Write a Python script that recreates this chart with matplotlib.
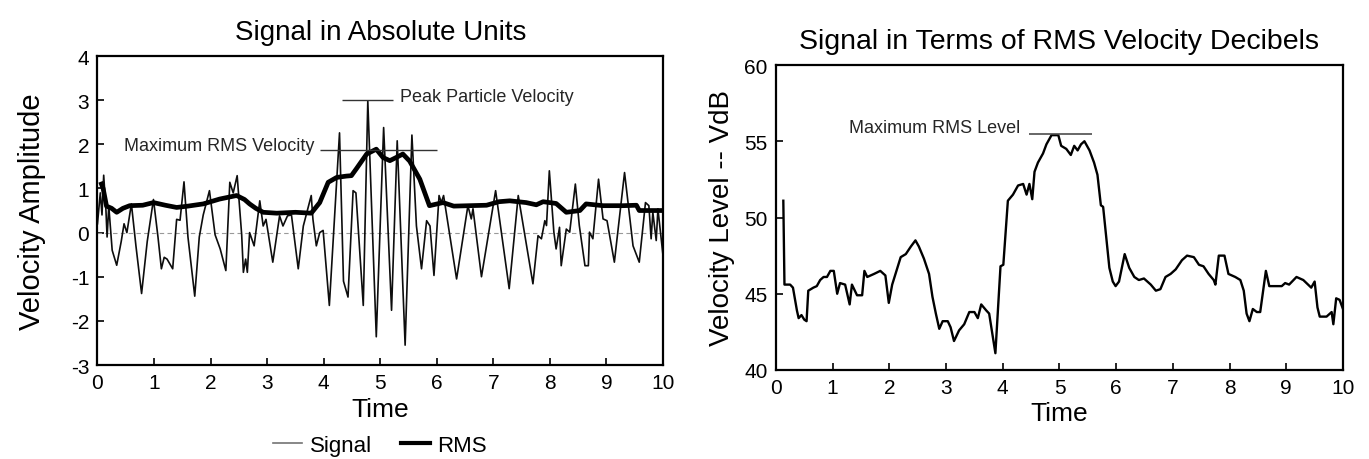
import matplotlib
matplotlib.use('Agg')
import matplotlib.pyplot as plt
from matplotlib.lines import Line2D

plt.rcParams['font.family'] = ['Liberation Sans', 'DejaVu Sans']
plt.rcParams['axes.unicode_minus'] = False

# left panel: raw signal (time, velocity amplitude)
sig_t = [0.00, 0.05, 0.08, 0.11, 0.15, 0.17, 0.20, 0.26, 0.34, 0.42, 0.47, 0.52, 0.60, 0.68,
         0.78, 0.88, 0.99, 1.07, 1.13, 1.18, 1.23, 1.33, 1.40, 1.46, 1.53, 1.60, 1.72, 1.80,
         1.87, 1.98, 2.08, 2.17, 2.27, 2.34, 2.40, 2.47, 2.55, 2.58, 2.62, 2.65, 2.69, 2.73,
         2.77, 2.87, 2.93, 2.98, 3.10, 3.22, 3.28, 3.36, 3.43, 3.55, 3.64, 3.78, 3.81, 3.87,
         3.93, 3.99, 4.10, 4.28, 4.35, 4.43, 4.52, 4.57, 4.70, 4.78, 4.93, 5.06, 5.20, 5.30,
         5.44, 5.56, 5.64, 5.73, 5.82, 5.88, 5.95, 6.04, 6.08, 6.12, 6.35, 6.55, 6.61, 6.64,
         6.79, 7.04, 7.28, 7.44, 7.70, 7.79, 7.85, 7.91, 7.94, 7.99, 8.07, 8.11, 8.17, 8.20,
         8.29, 8.35, 8.45, 8.52, 8.62, 8.68, 8.70, 8.76, 8.86, 8.94, 9.01, 9.14, 9.32, 9.47,
         9.58, 9.69, 9.75, 9.79, 9.82, 9.88, 9.91, 10.00]
sig_v = [0.20, 0.90, 0.40, 1.30, 0.50, -0.10, 0.60, -0.40, -0.74, -0.20, 0.20, 0.00, 0.65, -0.30,
         -1.38, -0.20, 0.75, -0.10, -0.82, -0.56, -0.60, -0.82, 0.30, 0.28, 1.15, -0.10, -1.44, -0.10,
         0.40, 0.95, -0.05, -0.37, -0.86, 1.14, 0.90, 1.29, -0.05, -0.90, -0.60, -0.90, 0.00, -0.15,
         -0.30, 0.72, 0.15, 0.30, -0.67, 0.38, 0.15, 0.38, 0.40, -0.82, 0.15, 0.84, 0.30, -0.30,
         0.00, 0.05, -1.65, 2.26, -1.10, -1.46, 0.95, 0.90, -1.65, 2.98, -2.36, 2.38, -1.76, 2.08,
         -2.55, 2.21, 0.15, -0.82, 0.27, 0.15, -0.97, 0.84, 0.68, 0.84, -1.05, 0.61, 0.31, 0.54,
         -1.00, 0.95, -1.27, 0.84, -1.16, -0.07, -0.14, 0.27, 0.16, 1.40, 0.01, -0.37, 0.12, -0.75,
         0.08, 0.01, 1.10, 0.16, -0.75, -0.75, 0.01, -0.14, 1.21, 0.31, 0.27, -0.67, 1.36, -0.30,
         -0.67, 0.68, 0.61, -0.14, 0.46, -0.18, 0.54, -0.52]

# left panel: running RMS
rms_t = [0.07, 0.10, 0.16, 0.25, 0.34, 0.45, 0.57, 0.80, 0.99, 1.20, 1.40, 1.60, 1.87, 2.16,
         2.46, 2.60, 2.69, 2.80, 2.93, 3.17, 3.50, 3.78, 3.93, 4.08, 4.23, 4.40, 4.49, 4.58,
         4.76, 4.93, 5.05, 5.17, 5.28, 5.40, 5.52, 5.70, 5.87, 6.11, 6.30, 6.58, 6.88, 7.10,
         7.29, 7.58, 7.76, 7.88, 8.11, 8.29, 8.53, 8.64, 8.94, 9.30, 9.53, 9.58, 10.00]
rms_v = [1.10, 1.00, 0.60, 0.55, 0.46, 0.55, 0.61, 0.62, 0.68, 0.62, 0.57, 0.60, 0.65, 0.76,
         0.84, 0.75, 0.65, 0.55, 0.46, 0.44, 0.46, 0.44, 0.68, 1.14, 1.25, 1.28, 1.29, 1.45,
         1.78, 1.89, 1.70, 1.63, 1.70, 1.78, 1.62, 1.21, 0.61, 0.68, 0.60, 0.61, 0.62, 0.70,
         0.72, 0.68, 0.63, 0.70, 0.66, 0.46, 0.50, 0.65, 0.61, 0.61, 0.62, 0.50, 0.50]

# right panel: RMS level in VdB
db_t = [0.13, 0.15, 0.25, 0.30, 0.37, 0.40, 0.45, 0.50, 0.54, 0.57, 0.66, 0.72, 0.78, 0.84,
        0.90, 0.96, 1.02, 1.08, 1.13, 1.22, 1.30, 1.34, 1.43, 1.52, 1.56, 1.61, 1.73, 1.84,
        1.93, 1.99, 2.05, 2.20, 2.29, 2.38, 2.46, 2.52, 2.61, 2.70, 2.76, 2.82, 2.88, 2.94,
        3.03, 3.08, 3.14, 3.23, 3.32, 3.41, 3.50, 3.56, 3.62, 3.71, 3.76, 3.87, 3.96, 4.01,
        4.09, 4.18, 4.27, 4.36, 4.42, 4.47, 4.52, 4.56, 4.62, 4.71, 4.77, 4.86, 4.98, 5.03,
        5.12, 5.20, 5.26, 5.32, 5.38, 5.44, 5.53, 5.61, 5.67, 5.73, 5.77, 5.82, 5.88, 5.94,
        5.99, 6.05, 6.15, 6.23, 6.32, 6.40, 6.49, 6.61, 6.70, 6.78, 6.87, 6.96, 7.05, 7.16,
        7.25, 7.37, 7.46, 7.54, 7.63, 7.72, 7.75, 7.81, 7.91, 7.98, 8.10, 8.19, 8.25, 8.30,
        8.35, 8.41, 8.48, 8.54, 8.60, 8.64, 8.70, 8.80, 8.92, 8.98, 9.05, 9.18, 9.30, 9.44,
        9.50, 9.55, 9.59, 9.71, 9.80, 9.83, 9.88, 9.94, 10.00]
db_v = [51.1, 45.6, 45.6, 45.4, 43.9, 43.4, 43.6, 43.3, 43.2, 45.2, 45.4, 45.5, 45.9, 46.1,
        46.1, 46.5, 46.5, 45.0, 45.7, 45.6, 44.3, 45.6, 44.9, 44.9, 46.5, 46.1, 46.3, 46.5,
        46.2, 44.4, 45.6, 47.4, 47.6, 48.1, 48.5, 48.1, 47.3, 46.3, 44.8, 43.7, 42.7, 43.2,
        43.2, 42.8, 41.9, 42.6, 43.0, 43.8, 43.8, 43.4, 44.3, 43.9, 43.7, 41.1, 46.8, 46.9,
        51.1, 51.5, 52.1, 52.2, 51.5, 52.2, 51.2, 53.0, 53.6, 54.2, 54.8, 55.4, 55.4, 54.7,
        54.5, 54.1, 54.7, 54.4, 54.8, 55.0, 54.4, 53.6, 52.8, 50.8, 50.7, 48.9, 46.7, 45.8,
        45.5, 45.8, 47.6, 46.7, 46.1, 45.9, 46.0, 45.6, 45.2, 45.3, 46.1, 46.3, 46.6, 47.2,
        47.5, 47.4, 46.9, 46.8, 46.3, 45.9, 45.6, 47.5, 47.5, 46.3, 46.1, 45.9, 45.2, 43.7,
        43.2, 44.0, 43.8, 43.8, 45.4, 46.5, 45.5, 45.5, 45.5, 45.7, 45.6, 46.1, 45.9, 45.4,
        45.8, 44.1, 43.5, 43.5, 43.8, 43.0, 44.7, 44.6, 44.0]

fig = plt.figure(figsize=(13.69, 4.6), dpi=100)
ax1 = fig.add_axes([0.0712, 0.2043, 0.4131, 0.6717])
ax2 = fig.add_axes([0.5668, 0.1935, 0.4142, 0.6630])

# --- left: absolute units ---
ax1.axhline(0, color='0.6', lw=0.8, ls=(0, (4, 3)))
ax1.plot(sig_t, sig_v, color='0.05', lw=1.2)
ax1.plot(rms_t, rms_v, color='black', lw=3.4)
ax1.hlines(3.0, 4.33, 5.23, color='0.2', lw=1.0)
ax1.text(5.35, 3.08, 'Peak Particle Velocity', fontsize=13, va='center', color='0.15')
ax1.hlines(1.87, 3.93, 6.01, color='0.2', lw=1.0)
ax1.text(3.84, 1.98, 'Maximum RMS Velocity', fontsize=13, ha='right', va='center', color='0.15')
ax1.set_xlim(0, 10)
ax1.set_ylim(-3, 4)
ax1.set_xticks(range(0, 11))
ax1.set_yticks(range(-3, 5))
ax1.set_title('Signal in Absolute Units', fontsize=20, pad=12)
ax1.set_xlabel('Time', fontsize=19, labelpad=3)
ax1.set_ylabel('Velocity Amplitude', fontsize=21, labelpad=18)

# --- right: decibels ---
ax2.plot(db_t, db_v, color='black', lw=1.7)
ax2.hlines(55.45, 4.47, 5.57, color='0.3', lw=1.2)
ax2.text(4.3, 55.9, 'Maximum RMS Level', fontsize=13, ha='right', va='center', color='0.15')
ax2.set_xlim(0, 10)
ax2.set_ylim(40, 60)
ax2.set_xticks(range(0, 11))
ax2.set_yticks(range(40, 61, 5))
ax2.set_title('Signal in Terms of RMS Velocity Decibels', fontsize=20.5, pad=12)
ax2.set_xlabel('Time', fontsize=19, labelpad=3)
ax2.set_ylabel('Velocity Level -- VdB', fontsize=20, labelpad=7)

for ax in (ax1, ax2):
    ax.tick_params(direction='in', length=5, width=1.2, labelsize=15, pad=6)
    for s in ax.spines.values():
        s.set_linewidth(1.6)

handles = [Line2D([], [], color='0.45', lw=1.2), Line2D([], [], color='black', lw=3)]
fig.legend(handles, ['Signal', 'RMS'], loc='center', bbox_to_anchor=(0.2776, 0.03),
           ncol=2, frameon=False, fontsize=16, handlelength=1.3, handletextpad=0.35,
           columnspacing=1.3)

fig.savefig('out.png', dpi=100)
